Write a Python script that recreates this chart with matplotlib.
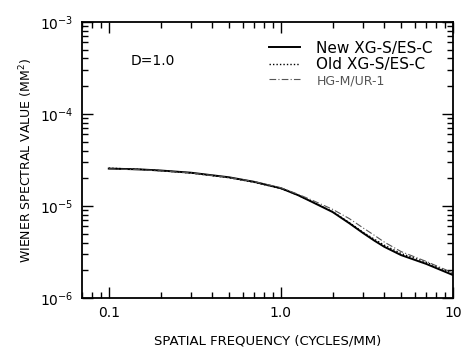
import numpy as np
import matplotlib
matplotlib.use("Agg")
import matplotlib.pyplot as plt
from matplotlib.ticker import FixedLocator, FixedFormatter, LogLocator, NullFormatter

# valores
freq = [0.1, 0.15, 0.2, 0.3, 0.5, 0.7, 1.0, 1.25, 1.5, 2.0, 2.5, 3.0, 3.5, 4.0, 5.0, 7.0, 10.0]
wsNew = [2.55e-5, 2.50e-5, 2.43e-5, 2.30e-5, 2.05e-5, 1.83e-5, 1.56e-5, 1.32e-5, 1.12e-5,
         8.6e-6, 6.5e-6, 5.1e-6, 4.2e-6, 3.6e-6, 2.93e-6, 2.35e-6, 1.78e-6]
wsOld = [2.58e-5, 2.50e-5, 2.42e-5, 2.28e-5, 2.03e-5, 1.81e-5, 1.55e-5, 1.32e-5, 1.13e-5,
         8.7e-6, 6.6e-6, 5.2e-6, 4.35e-6, 3.75e-6, 3.05e-6, 2.45e-6, 1.85e-6]
wsHG = [2.53e-5, 2.48e-5, 2.41e-5, 2.29e-5, 2.04e-5, 1.84e-5, 1.58e-5, 1.35e-5, 1.17e-5,
        9.2e-6, 7.3e-6, 5.8e-6, 4.8e-6, 4.05e-6, 3.2e-6, 2.5e-6, 1.88e-6]

labels = ["New XG-S/ES-C", "Old XG-S/ES-C", "HG-M/UR-1"]

fig = plt.figure(figsize=(4.64, 3.47), dpi=100)
ax = fig.add_axes([0.177, 0.141, 0.799, 0.796])

ax.plot(freq, wsNew, color='black', lw=1.4, label=labels[0])
ax.plot(freq, wsOld, color='black', lw=1.0, ls=(0, (1, 1.5)), label=labels[1])
ax.plot(freq, wsHG, color='#555555', lw=0.8, ls=(0, (6, 2, 1, 2)), label=labels[2])

ax.set_xscale('log')
ax.set_yscale('log')
ax.set_xlim(0.07, 10)
ax.set_ylim(1e-6, 1e-3)

ax.xaxis.set_major_locator(FixedLocator([0.1, 1.0, 10]))
ax.xaxis.set_major_formatter(FixedFormatter(["0.1", "1.0", "10"]))
ax.xaxis.set_minor_locator(LogLocator(base=10, subs=np.arange(2, 10)))
ax.xaxis.set_minor_formatter(NullFormatter())
ax.yaxis.set_minor_locator(LogLocator(base=10, subs=np.arange(2, 10)))
ax.yaxis.set_minor_formatter(NullFormatter())

ax.tick_params(which='both', direction='in', top=True, right=True, width=1)
ax.tick_params(which='major', length=8, labelsize=10, pad=6)
ax.tick_params(which='minor', length=4)
for s in ax.spines.values():
    s.set_linewidth(1.3)

ax.set_xlabel("SPATIAL FREQUENCY (CYCLES/MM)", fontsize=9.5, labelpad=10)
ax.set_ylabel("WIENER SPECTRAL VALUE (MM$^2$)", fontsize=9, labelpad=4)

ax.text(0.13, 0.86, "D=1.0", transform=ax.transAxes, fontsize=10, va='center')

leg = ax.legend(loc='upper right', bbox_to_anchor=(0.975, 0.97), frameon=False,
                fontsize=11, handlelength=2.0, labelspacing=0.1, borderpad=0.2,
                handletextpad=1.1)
leg.get_texts()[2].set_color('#555555')
leg.get_texts()[2].set_fontsize(9)

fig.savefig("out.png", dpi=100)
